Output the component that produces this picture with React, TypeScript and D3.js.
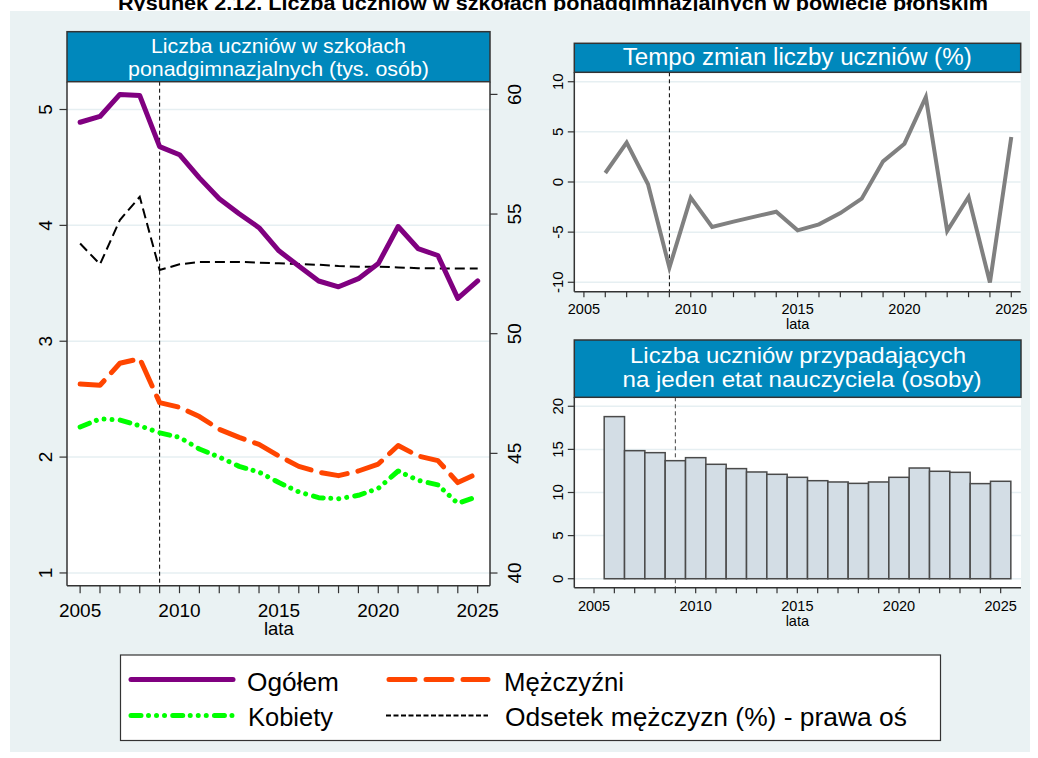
import React from "react";
import * as d3 from "d3";

// ---------- DATA ----------
const years = [2005, 2006, 2007, 2008, 2009, 2010, 2011, 2012, 2013, 2014, 2015, 2016, 2017, 2018, 2019, 2020, 2021, 2022, 2023, 2024, 2025];
const ogolem = [4.89, 4.94, 5.13, 5.12, 4.68, 4.61, 4.41, 4.23, 4.10, 3.98, 3.78, 3.65, 3.52, 3.47, 3.54, 3.67, 3.99, 3.80, 3.74, 3.37, 3.52];
const mezczyzni = [2.63, 2.62, 2.81, 2.85, 2.47, 2.43, 2.35, 2.24, 2.17, 2.11, 2.01, 1.92, 1.87, 1.84, 1.88, 1.94, 2.10, 2.01, 1.97, 1.78, 1.86];
const kobiety = [2.26, 2.33, 2.32, 2.27, 2.21, 2.17, 2.07, 2.00, 1.92, 1.87, 1.78, 1.70, 1.65, 1.64, 1.67, 1.73, 1.88, 1.80, 1.76, 1.60, 1.66];
const odsetek = [53.77, 52.9, 54.75, 55.72, 52.66, 52.9, 53.0, 53.0, 53.0, 52.97, 52.94, 52.91, 52.88, 52.83, 52.8, 52.8, 52.77, 52.74, 52.73, 52.72, 52.72];

const yearsB = [2006, 2007, 2008, 2009, 2010, 2011, 2012, 2013, 2014, 2015, 2016, 2017, 2018, 2019, 2020, 2021, 2022, 2023, 2024, 2025];
const tempo = [0.9, 3.92, -0.23, -8.54, -1.56, -4.49, -3.95, -3.45, -2.96, -4.82, -4.22, -3.1, -1.66, 2.06, 3.82, 8.47, -4.88, -1.5, -10.03, 4.49];
const uczniowieNaEtat = [18.8, 14.85, 14.62, 13.69, 14.04, 13.27, 12.77, 12.38, 12.11, 11.76, 11.37, 11.22, 11.06, 11.22, 11.76, 12.84, 12.46, 12.34, 11.03, 11.3];

const xTickLabels = [2005, 2010, 2015, 2020, 2025];
const leftTicks = [1, 2, 3, 4, 5];
const rightTicks = [40, 45, 50, 55, 60];
const tempoTicks = [-10, -5, 0, 5, 10];
const barTicks = [0, 5, 10, 15, 20];
const markerYear = 2009;

const mainTitle = "Rysunek 2.12. Liczba uczniów w szkołach ponadgimnazjalnych w powiecie płońskim";
const leftTitle = ["Liczba uczniów w szkołach", "ponadgimnazjalnych (tys. osób)"];
const topRightTitle = "Tempo zmian liczby uczniów (%)";
const bottomRightTitle = ["Liczba uczniów przypadających", "na jeden etat nauczyciela (osoby)"];
const xAxisTitle = "lata";
const legendItems = ["Ogółem", "Mężczyźni", "Kobiety", "Odsetek mężczyzn (%) - prawa oś"];

// ---------- STYLE ----------
const FONT = "'Liberation Sans', Arial, Helvetica, sans-serif";
const BG = "#eaf2f3";
const GRID = "#e6eff2";
const BAR_TITLE = "#0088bc";
const AXIS = "#333333";

const C_OG = "#800080";
const C_M = "#ff4500";
const C_K = "#00ff00";

const sOg = { stroke: C_OG, strokeWidth: 5, fill: "none", strokeLinejoin: "round" as const, strokeLinecap: "round" as const };
const sM = { stroke: C_M, strokeWidth: 5, fill: "none", strokeLinejoin: "round" as const, strokeLinecap: "round" as const, strokeDasharray: "26 11" };
const sK = { stroke: C_K, strokeWidth: 5, fill: "none", strokeLinejoin: "round" as const, strokeLinecap: "round" as const, strokeDasharray: "10 7.5 0.01 8 0.01 8 0.01 8.2" };
const sOd = { stroke: "#000", strokeWidth: 2, fill: "none", strokeDasharray: "10 5" };
const sOdLeg = { stroke: "#000", strokeWidth: 2, fill: "none", strokeDasharray: "5 2.5" };

export default function App() {
  // Left panel
  const L = { x0: 67, x1: 490, y0: 81.7, y1: 585.7, tTop: 31.7 };
  const xL = d3.scaleLinear().domain([2004.34, 2025.62]).range([L.x0, L.x1]);
  const yL = d3.scaleLinear().domain([0.89, 5.24]).range([L.y1, L.y0]);
  const yR = d3.scaleLinear().domain([39.47, 60.53]).range([L.y1, L.y0]);
  const lineL = (vals: number[]) => d3.line<number>().x((_, i) => xL(years[i])).y((v) => yL(v))(vals) || "";
  const lineR = d3.line<number>().x((_, i) => xL(years[i])).y((v) => yR(v))(odsetek) || "";

  // Top right panel
  const T = { x0: 574.3, x1: 1020.7, y0: 72.3, y1: 291.7, tTop: 43.3 };
  const xT = d3.scaleLinear().domain([2004.55, 2025.44]).range([T.x0, T.x1]);
  const yT = d3.scaleLinear().domain([-10.94, 10.94]).range([T.y1, T.y0]);
  const lineT = d3.line<number>().x((_, i) => xT(yearsB[i])).y((v) => yT(v))(tempo) || "";

  // Bottom right panel
  const B = { x0: 574.3, x1: 1021, y0: 397.3, y1: 587.7, tTop: 340 };
  const xB = d3.scaleLinear().domain([2004.03, 2026.0]).range([B.x0, B.x1]);
  const yB = d3.scaleLinear().domain([-1.04, 21.04]).range([B.y1, B.y0]);

  const titleBox = (x0: number, x1: number, y0: number, y1: number) => (
    <rect x={x0} y={y0} width={x1 - x0} height={y1 - y0} fill={BAR_TITLE} stroke={AXIS} strokeWidth={1.5} />
  );

  return (
    <svg width={1038} height={758} style={{ position: "fixed", left: 0, top: 0 }} fontFamily={FONT}>
      <rect x={0} y={0} width={1038} height={758} fill="#ffffff" />
      <text x={553} y={10} textAnchor="middle" fontSize={21} fontWeight="bold" fill="#000" textLength={870} lengthAdjust="spacingAndGlyphs">{mainTitle}</text>
      <rect x={10} y={11} width={1020} height={741} fill={BG} />

      {/* ===== LEFT PANEL ===== */}
      <rect x={L.x0} y={L.y0} width={L.x1 - L.x0} height={L.y1 - L.y0} fill="#fff" />
      {leftTicks.map((t) => (
        <line key={"gl" + t} x1={L.x0} x2={L.x1} y1={yL(t)} y2={yL(t)} stroke={GRID} strokeWidth={1.5} />
      ))}
      <line x1={xL(markerYear)} x2={xL(markerYear)} y1={L.y0} y2={L.y1} stroke="#000" strokeWidth={1} strokeDasharray="4 3" />
      <path d={lineR} style={sOd} />
      <path d={lineL(kobiety)} style={sK} />
      <path d={lineL(mezczyzni)} style={sM} />
      <path d={lineL(ogolem)} style={sOg} />
      {/* axes */}
      <line x1={L.x0} x2={L.x0} y1={L.y0} y2={L.y1} stroke={AXIS} strokeWidth={1.5} />
      <line x1={L.x1} x2={L.x1} y1={L.y0} y2={L.y1} stroke={AXIS} strokeWidth={1.5} />
      <line x1={L.x0} x2={L.x1} y1={L.y1} y2={L.y1} stroke={AXIS} strokeWidth={1.5} />
      {leftTicks.map((t) => (
        <g key={"lt" + t}>
          <line x1={L.x0 - 7.5} x2={L.x0} y1={yL(t)} y2={yL(t)} stroke={AXIS} strokeWidth={1.2} />
          <text transform={`translate(52,${yL(t)}) rotate(-90)`} textAnchor="middle" fontSize={19} fill="#000">{t}</text>
        </g>
      ))}
      {rightTicks.map((t) => (
        <g key={"rt" + t}>
          <line x1={L.x1} x2={L.x1 + 7.5} y1={yR(t)} y2={yR(t)} stroke={AXIS} strokeWidth={1.2} />
          <text transform={`translate(521,${yR(t)}) rotate(-90)`} textAnchor="middle" fontSize={19} fill="#000">{t}</text>
        </g>
      ))}
      {years.map((yr) => (
        <line key={"lx" + yr} x1={xL(yr)} x2={xL(yr)} y1={L.y1} y2={L.y1 + 7.5} stroke={AXIS} strokeWidth={1.2} />
      ))}
      {xTickLabels.map((yr) => (
        <text key={"lxl" + yr} x={xL(yr)} y={616.7} textAnchor="middle" fontSize={19} fill="#000">{yr}</text>
      ))}
      <text x={xL(2015)} y={635} textAnchor="middle" fontSize={18.5} fill="#000">{xAxisTitle}</text>
      {titleBox(L.x0, L.x1, L.tTop, L.y0)}
      <text x={(L.x0 + L.x1) / 2} y={53.3} textAnchor="middle" fontSize={21} fill="#fff" textLength={255} lengthAdjust="spacingAndGlyphs">{leftTitle[0]}</text>
      <text x={(L.x0 + L.x1) / 2} y={75.5} textAnchor="middle" fontSize={21} fill="#fff" textLength={301} lengthAdjust="spacingAndGlyphs">{leftTitle[1]}</text>

      {/* ===== TOP RIGHT PANEL ===== */}
      <rect x={T.x0} y={T.y0} width={T.x1 - T.x0} height={T.y1 - T.y0} fill="#fff" />
      {tempoTicks.map((t) => (
        <line key={"gt" + t} x1={T.x0} x2={T.x1} y1={yT(t)} y2={yT(t)} stroke={GRID} strokeWidth={1.5} />
      ))}
      <line x1={xT(markerYear)} x2={xT(markerYear)} y1={T.y0} y2={T.y1} stroke="#000" strokeWidth={1} strokeDasharray="4 3" />
      <path d={lineT} fill="none" stroke="#808080" strokeWidth={4} strokeLinejoin="miter" />
      <line x1={T.x0} x2={T.x0} y1={T.y0} y2={T.y1} stroke={AXIS} strokeWidth={1.5} />
      <line x1={T.x0} x2={T.x1} y1={T.y1} y2={T.y1} stroke={AXIS} strokeWidth={1.5} />
      {tempoTicks.map((t) => (
        <g key={"tt" + t}>
          <line x1={T.x0 - 6.5} x2={T.x0} y1={yT(t)} y2={yT(t)} stroke={AXIS} strokeWidth={1.2} />
          <text transform={`translate(563.3,${yT(t)}) rotate(-90)`} textAnchor="middle" fontSize={15} fill="#000">{t}</text>
        </g>
      ))}
      {years.map((yr) => (
        <line key={"tx" + yr} x1={xT(yr)} x2={xT(yr)} y1={T.y1} y2={T.y1 + 5.5} stroke={AXIS} strokeWidth={1.2} />
      ))}
      {xTickLabels.map((yr) => (
        <text key={"txl" + yr} x={xT(yr)} y={314} textAnchor="middle" fontSize={14.5} fill="#000">{yr}</text>
      ))}
      <text x={xT(2015)} y={329} textAnchor="middle" fontSize={14.5} fill="#000">{xAxisTitle}</text>
      {titleBox(T.x0, T.x1, T.tTop, T.y0)}
      <text x={797.2} y={64.5} textAnchor="middle" fontSize={23} fill="#fff" textLength={349} lengthAdjust="spacingAndGlyphs">{topRightTitle}</text>

      {/* ===== BOTTOM RIGHT PANEL ===== */}
      <rect x={B.x0} y={B.y0} width={B.x1 - B.x0} height={B.y1 - B.y0} fill="#fff" />
      {barTicks.map((t) => (
        <line key={"gb" + t} x1={B.x0} x2={B.x1} y1={yB(t)} y2={yB(t)} stroke={GRID} strokeWidth={1.5} />
      ))}
      <line x1={xB(markerYear)} x2={xB(markerYear)} y1={B.y0} y2={B.y1} stroke="#444" strokeWidth={1} strokeDasharray="4 3" />
      {uczniowieNaEtat.map((v, i) => (
        <rect key={"bar" + i} x={xB(yearsB[i] - 0.5)} y={yB(v)} width={xB(yearsB[i] + 0.5) - xB(yearsB[i] - 0.5)} height={yB(0) - yB(v)}
          fill="#d3dde5" stroke="#4a4a4a" strokeWidth={1.5} />
      ))}
      <line x1={B.x0} x2={B.x0} y1={B.y0} y2={B.y1} stroke={AXIS} strokeWidth={1.5} />
      <line x1={B.x0} x2={B.x1} y1={B.y1} y2={B.y1} stroke={AXIS} strokeWidth={1.5} />
      {barTicks.map((t) => (
        <g key={"bt" + t}>
          <line x1={B.x0 - 6.5} x2={B.x0} y1={yB(t)} y2={yB(t)} stroke={AXIS} strokeWidth={1.2} />
          <text transform={`translate(563.3,${yB(t)}) rotate(-90)`} textAnchor="middle" fontSize={15} fill="#000">{t}</text>
        </g>
      ))}
      {years.map((yr) => (
        <line key={"bx" + yr} x1={xB(yr)} x2={xB(yr)} y1={B.y1} y2={B.y1 + 5.5} stroke={AXIS} strokeWidth={1.2} />
      ))}
      {xTickLabels.map((yr) => (
        <text key={"bxl" + yr} x={xB(yr)} y={610.7} textAnchor="middle" fontSize={14.5} fill="#000">{yr}</text>
      ))}
      <text x={xB(2015)} y={625.7} textAnchor="middle" fontSize={14.5} fill="#000">{xAxisTitle}</text>
      {titleBox(B.x0, B.x1, B.tTop, B.y0)}
      <text x={798} y={363.3} textAnchor="middle" fontSize={22} fill="#fff" textLength={336} lengthAdjust="spacingAndGlyphs">{bottomRightTitle[0]}</text>
      <text x={802} y={386.7} textAnchor="middle" fontSize={22} fill="#fff" textLength={359} lengthAdjust="spacingAndGlyphs">{bottomRightTitle[1]}</text>

      {/* ===== LEGEND ===== */}
      <rect x={120.5} y={655} width={820} height={85.5} fill="#fff" stroke={AXIS} strokeWidth={1.2} />
      <line x1={131} x2={233} y1={679.5} y2={679.5} style={sOg} />
      <text x={247} y={690.7} fontSize={25} fill="#000" textLength={92} lengthAdjust="spacingAndGlyphs">{legendItems[0]}</text>
      <line x1={389} x2={488} y1={679.5} y2={679.5} style={sM} />
      <text x={504} y={690.7} fontSize={25} fill="#000" textLength={120} lengthAdjust="spacingAndGlyphs">{legendItems[1]}</text>
      <line x1={131} x2={233} y1={715.5} y2={715.5} style={sK} />
      <text x={248} y={725.5} fontSize={25} fill="#000" textLength={85} lengthAdjust="spacingAndGlyphs">{legendItems[2]}</text>
      <line x1={386} x2={488} y1={715.5} y2={715.5} style={sOdLeg} />
      <text x={505} y={725.5} fontSize={25} fill="#000" textLength={402} lengthAdjust="spacingAndGlyphs">{legendItems[3]}</text>
    </svg>
  );
}
